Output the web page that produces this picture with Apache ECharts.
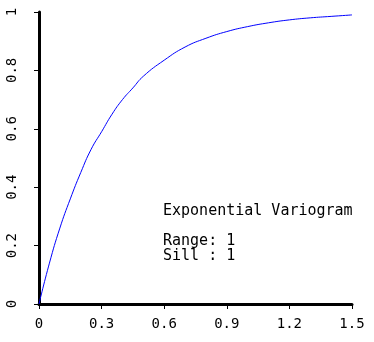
<!DOCTYPE html>
<html>
<head>
<meta charset="utf-8">
<script src="https://cdn.jsdelivr.net/npm/echarts@6/dist/echarts.min.js"></script>
<style>
  html, body { margin: 0; padding: 0; background: #fff; }
  #main { width: 374px; height: 342px; }
</style>
</head>
<body>
<div id="main"></div>
<script>
  // lag distance vs semivariance
  const lagValues = [0, 0.05, 0.1, 0.15, 0.2, 0.25, 0.3, 0.35, 0.4, 0.45, 0.5, 0.6, 0.7, 0.8, 0.9, 1.0, 1.1, 1.2, 1.3, 1.4, 1.5];
  const gammaValues = [0, 0.14, 0.26, 0.36, 0.45, 0.53, 0.59, 0.65, 0.70, 0.74, 0.78, 0.835, 0.88, 0.91, 0.933, 0.95, 0.963, 0.973, 0.98, 0.985, 0.99];
  const noteLines = ['Exponential Variogram', '', 'Range: 1', 'Sill : 1'];

  const font = 'DejaVu Sans Mono';
  const chart = echarts.init(document.getElementById('main'));

  const option = {
    animation: false,
    grid: { left: 39, right: 22, top: 12, bottom: 38 },
    xAxis: {
      type: 'value',
      min: 0,
      max: 1.5,
      interval: 0.3,
      axisLine: { lineStyle: { color: '#000', width: 3 } },
      axisTick: { length: 5, lineStyle: { color: '#000', width: 1 } },
      axisLabel: { color: '#000', fontFamily: font, fontSize: 14, margin: 13 },
      splitLine: { show: false }
    },
    yAxis: {
      type: 'value',
      min: 0,
      max: 1,
      interval: 0.2,
      axisLine: { show: true, lineStyle: { color: '#000', width: 3 } },
      axisTick: { show: true, length: 5, lineStyle: { color: '#000', width: 1 } },
      axisLabel: { color: '#000', fontFamily: font, fontSize: 14, rotate: 90, margin: 20 },
      splitLine: { show: false }
    },
    series: [{
      type: 'line',
      data: lagValues.map((x, i) => [x, gammaValues[i]]),
      smooth: true,
      showSymbol: false,
      lineStyle: { color: '#0000ff', width: 1 }
    }],
    graphic: [{
      type: 'text',
      left: 163,
      top: 204,
      style: {
        text: noteLines.join('\n'),
        fill: '#000',
        font: '15px "' + font + '"',
        lineHeight: 15
      }
    }]
  };

  chart.setOption(option);
</script>
</body>
</html>
